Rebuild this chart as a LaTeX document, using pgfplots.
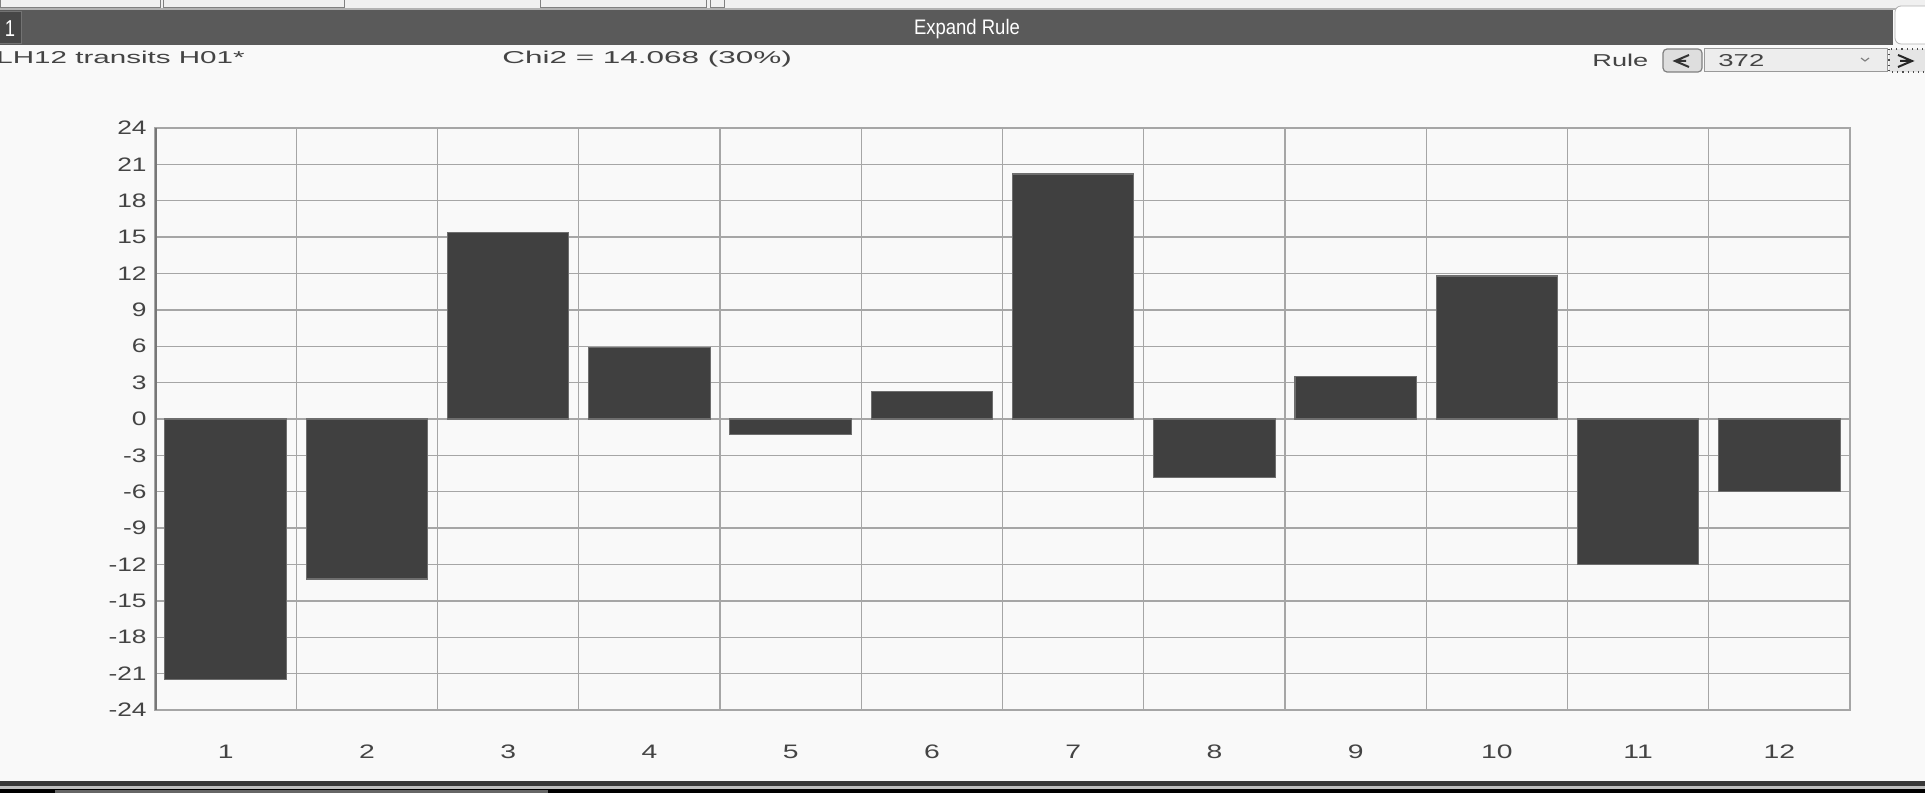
\documentclass[border=0pt]{standalone}
\usepackage{fontspec}
\setmainfont{Liberation Sans}
\usepackage{graphicx}
\usepackage{pgfplots}
\pgfplotsset{compat=1.18}

\definecolor{bg}{HTML}{F9F9F9}
\definecolor{barc}{HTML}{404040}
\definecolor{barline}{HTML}{6E6E6E}
\definecolor{gridc}{HTML}{A6A6A6}
\definecolor{axisc}{HTML}{777777}
\definecolor{labelc}{HTML}{444444}
\definecolor{titlec}{HTML}{5A5A5A}
\definecolor{tabc}{HTML}{474747}

\newcommand\sx[2]{\scalebox{#1}[1]{#2}}
\newcommand\hdr{\fontsize{8.6}{10}\selectfont}

\begin{document}
\begin{tikzpicture}
\path[use as bounding box, clip] (0,0) rectangle (962.5pt,396.5pt);
\fill[bg] (0,0) rectangle (962.5pt,396.5pt);

% window chrome, in pixel units from the top left
\begin{scope}[x=0.5pt,y=-0.5pt,shift={(0,396.5pt)}]
  \fill[white!94!black] (0,0) rectangle (1925,9);
  \foreach \a/\b in {0/160,163/344,540/706,710/724}
    \draw[gray, line width=0.5pt] (\a,-6) rectangle (\b,8);
  \draw[gray!60, line width=1pt] (0,9.5) -- (1925,9.5);
  \fill[titlec] (0,10) rectangle (1893,45);
  \draw[fill=tabc, draw=gray!90!black, line width=0.5pt] (-2,12) rectangle (21,44);
  \node[white, inner sep=0] at (10,29) {\sx{0.8}{\fontsize{11.5}{13}\selectfont 1}};
  \node[white, inner sep=0] at (967,29.5) {\sx{0.88}{\fontsize{10.5}{12}\selectfont Expand Rule}};
  \draw[fill=white, draw=gray!60, rounded corners=3pt] (1895,6) rectangle (1940,44);

  \node[anchor=base west, inner sep=0, text=labelc] at (-4,64) {\sx{1.72}{\hdr LH12 transits H01*}};
  \node[anchor=base west, inner sep=0, text=labelc] at (502,64) {\sx{1.83}{\hdr Chi2 = 14.068 (30\%)}};
  \node[anchor=base west, inner sep=0, text=labelc] at (1592,67) {\sx{1.58}{\hdr Rule}};
  \draw[fill=black!13, draw=gray, rounded corners=2pt, line width=0.6pt] (1663,49) rectangle (1702,72);
  \draw[line width=1pt, black!80] (1689,55) -- (1675,61) -- (1689,67) (1677,61) -- (1686,61);
  \draw[fill=black!7, draw=gray!80, line width=0.5pt] (1704,49) rectangle (1887,72);
  \node[anchor=base west, inner sep=0, text=labelc] at (1718,67) {\sx{1.6}{\hdr 372}};
  \draw[line width=0.6pt, gray] (1861,58) -- (1865,61) -- (1869,58);
  \draw[fill=black!10, draw=black!70, dotted, line width=0.6pt] (1889,49) rectangle (1930,72);
  \draw[line width=1pt, black!85] (1898,55) -- (1912,61) -- (1898,67) (1900,61) -- (1909,61);

  \fill[black!78] (0,781) rectangle (1925,786);
  \fill[black!25] (0,786) rectangle (1925,789);
  \fill[black] (0,789) rectangle (1925,793);
  \fill[black!60] (55,789.5) rectangle (548,793);
\end{scope}

\begin{axis}[
    at={(77.5pt,41.5pt)}, anchor=south west,
    scale only axis, width=847.5pt, height=291pt,
    xmin=0.5, xmax=12.5, ymin=-24, ymax=24,
    xtick={1,...,12}, minor xtick={1.5,2.5,...,11.5},
    ytick={-24,-21,...,24},
    major tick length=0pt, minor tick length=0pt,
    xminorgrids=true, ymajorgrids=true,
    grid style={draw=gridc, line width=0.7pt},
    minor grid style={draw=gridc, line width=0.7pt},
    axis line style={draw=gridc, line width=0.7pt},
    /pgf/number format/assume math mode=true,
    ticklabel style={font=\fontsize{9.75}{11}\selectfont, text=labelc, inner sep=0pt},
    xticklabel={\sx{1.45}{\pgfmathprintnumber{\tick}}},
    yticklabel={\sx{1.35}{\pgfmathprintnumber{\tick}}},
    xticklabel style={anchor=center, yshift=-21pt},
    yticklabel style={anchor=east, xshift=-4pt},
  ]
  \addplot[ybar, bar width=0.86, fill=barc, draw=barline, line width=0.6pt] coordinates {
    (1,-21.5) (2,-13.2) (3,15.4) (4,5.9) (5,-1.3) (6,2.3)
    (7,20.2) (8,-4.85) (9,3.5) (10,11.8) (11,-12.0) (12,-6.0)
  };
  \draw[axisc, line width=1.6pt] (axis cs:0.5,-24) -- (axis cs:0.5,24);
\end{axis}
\end{tikzpicture}
\end{document}
